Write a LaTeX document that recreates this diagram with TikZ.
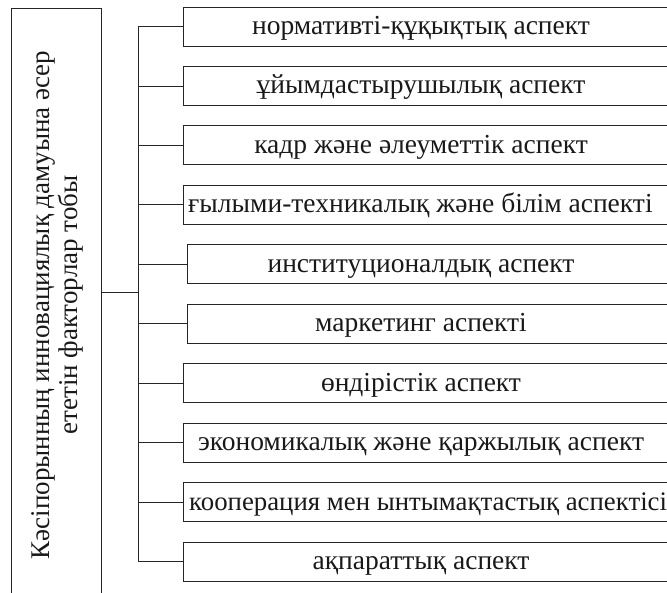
\documentclass[tikz,border=0pt]{standalone}
\usepackage{fontspec}
\setmainfont{Liberation Serif}
\begin{document}
\begin{tikzpicture}[x=1pt,y=-1pt,
  line/.style={line width=0.9pt,draw=black!85},
  aspbox/.style={line,draw,minimum height=39pt,minimum width=517pt,inner sep=0pt,anchor=west},
  asptext/.style={font=\fontsize{27.5}{28}\selectfont,inner sep=0pt,text=black!90},
  mainbox/.style={line,draw,minimum width=90pt,minimum height=600pt,inner sep=0pt}]
\useasboundingbox (0,0) rectangle (667,592);
\clip (0,0) rectangle (667,592);
\node[mainbox] (main) at (56,308) {};
\node[asptext,font=\fontsize{27}{28}\selectfont,rotate=90,align=center] (maintext) at (57,305)
  {Кәсіпорынның инновациялық дамуына әсер\\ететін факторлар тобы};
\foreach \i/\x/\t in {0/183/нормативті-құқықтық аспект,
  1/183/ұйымдастырушылық аспект,
  2/183/кадр және әлеуметтік аспект,
  4/187/институционалдық аспект,
  5/187/маркетинг аспекті,
  6/183/өндірістік аспект,
  7/183/экономикалық және қаржылық аспект,
  9/183/ақпараттық аспект}{
  \node[aspbox] (b\i) at (\x,26.5+59.45*\i) {};
  \node[asptext,anchor=base] (t\i) at (421,34.5+59.45*\i) {\t};
}
\node[aspbox] (b3) at (183,26.5+59.45*3) {};
\node[asptext,anchor=base west] (t3) at (188,34.5+59.45*3) {ғылыми-техникалық және білім аспекті};
\node[aspbox] (b8) at (183,26.5+59.45*8) {};
\node[asptext,font=\fontsize{26.8}{28}\selectfont,anchor=base west] (t8) at (189,34.5+59.45*8) {кооперация мен ынтымақтастық аспектісі};
\coordinate (jn) at (138,292);
\draw[line] (main.east |- jn) -- (jn);
\draw[line] (jn |- b0.west) -- (jn |- b9.west);
\foreach \i in {0,...,9}{
  \draw[line] (jn |- b\i.west) -- (b\i.west);
}
\end{tikzpicture}
\end{document}
